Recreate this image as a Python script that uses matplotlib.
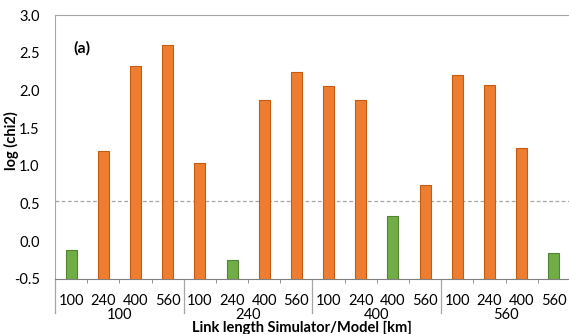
import matplotlib.pyplot as plt
from matplotlib.transforms import blended_transform_factory

plt.rcParams['font.family'] = ['Lato', 'DejaVu Sans']

# model link length (inner level) and simulator link length (outer level)
model_km = ['100', '240', '400', '560']
simulator_km = ['100', '240', '400', '560']
# log(chi2) per simulator group, in model order
log_chi2_100 = [-0.12, 1.20, 2.33, 2.60]
log_chi2_240 = [1.04, -0.25, 1.88, 2.25]
log_chi2_400 = [2.06, 1.87, 0.33, 0.75]
log_chi2_560 = [2.21, 2.07, 1.24, -0.16]
threshold = 0.53

values = log_chi2_100 + log_chi2_240 + log_chi2_400 + log_chi2_560
inner_labels = model_km * len(simulator_km)
n = len(values)
x = list(range(n))

orange, orange_edge = '#ED7D31', '#C55A11'
green, green_edge = '#70AD47', '#548235'
colors = []
edges = []
for i in range(n):
    # matching simulator/model length shown in green
    if i // 4 == i % 4:
        colors.append(green)
        edges.append(green_edge)
    else:
        colors.append(orange)
        edges.append(orange_edge)

fs = 10.5
fig = plt.figure(figsize=(5.69, 3.34), dpi=100)
ax = fig.add_axes([0.0967, 0.1647, 0.905, 0.79])

base = -0.5
ax.bar(x, [v - base for v in values], bottom=base, width=0.34,
       color=colors, edgecolor=edges, linewidth=0.8, zorder=3)

ax.axhline(threshold, color='#a6a6a6', linestyle=(0, (3, 2)), linewidth=0.9, zorder=2)

ax.set_xlim(-0.5, n - 0.5)
ax.set_ylim(-0.5, 3.0)
ax.set_yticks([-0.5, 0.0, 0.5, 1.0, 1.5, 2.0, 2.5, 3.0])
ax.set_yticklabels(['%.1f' % t for t in ax.get_yticks()], fontsize=fs)
ax.tick_params(axis='y', length=0, pad=11)

ax.set_xticks(x)
ax.set_xticklabels(inner_labels, fontsize=fs)
ax.tick_params(axis='x', length=0, pad=11)

# small ticks between categories
ax.set_xticks([i + 0.5 for i in range(n - 1) if (i + 1) % 4 != 0], minor=True)
ax.tick_params(axis='x', which='minor', length=3, color='#808080', direction='out')

for s in ['top', 'left', 'right']:
    ax.spines[s].set_color('#a6a6a6')
ax.spines['bottom'].set_color('#808080')
ax.spines['right'].set_visible(False)

# group separators and outer labels
trans = blended_transform_factory(ax.transData, ax.transAxes)
for g in range(len(simulator_km) + 1):
    xs = g * 4 - 0.5
    ax.plot([xs, xs], [0, -0.13], color='#a6a6a6', linewidth=0.9,
            transform=trans, clip_on=False)
for g, lab in enumerate(simulator_km):
    ax.text(g * 4 + 1.5, -0.135, lab, transform=trans, ha='center', va='center',
            fontsize=fs)

ax.text(0.035, 0.875, '(a)', transform=ax.transAxes, fontsize=11.5,
        fontweight='bold', va='center')

fig.text(0.021, 0.578, 'log (chi2)', rotation=90, ha='center', va='center',
         fontsize=fs, fontweight='bold')
fig.text(0.53, 0.018, 'Link length Simulator/Model [km]', ha='center', va='center',
         fontsize=fs, fontweight='bold')

fig.savefig('out.png', dpi=100)
